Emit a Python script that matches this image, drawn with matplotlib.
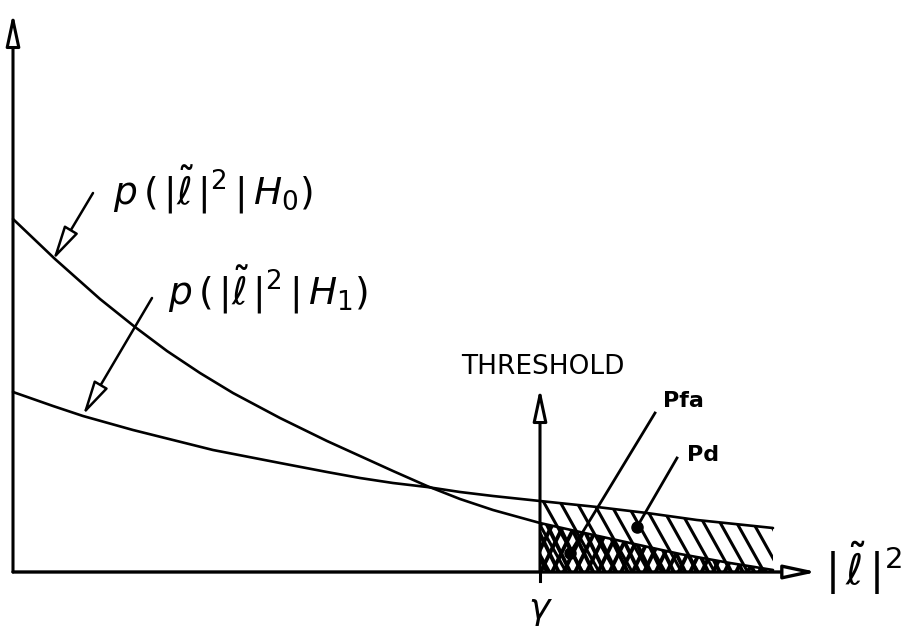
import matplotlib
matplotlib.use("Agg")
import matplotlib.pyplot as plt
from matplotlib.patches import Polygon
from matplotlib.collections import LineCollection
import numpy as np

plt.rcParams['font.family'] = ['DejaVu Sans']
plt.rcParams['mathtext.fontset'] = 'dejavusans'

# detection threshold on |l|^2
gamma = 5.27

# p(|l|^2 | H0)
h0_x = [0.0, 0.42, 0.87, 1.22, 1.54, 1.87, 2.20, 2.67, 3.14, 3.47, 3.80,
        4.14, 4.47, 4.80, 5.27, 5.67, 6.17, 6.67, 7.17, 7.60]
h0_y = [3.53, 3.13, 2.73, 2.45, 2.21, 1.99, 1.79, 1.54, 1.31, 1.16, 1.01,
        0.86, 0.73, 0.62, 0.49, 0.40, 0.29, 0.18, 0.09, 0.02]

# p(|l|^2 | H1)
h1_x = [0.0, 0.40, 0.70, 1.20, 1.64, 2.00, 2.67, 3.14, 3.47, 3.80, 4.14,
        4.47, 4.80, 5.27, 5.84, 6.34, 6.84, 7.60]
h1_y = [1.80, 1.66, 1.56, 1.42, 1.31, 1.22, 1.09, 1.00, 0.94, 0.89, 0.85,
        0.80, 0.76, 0.71, 0.65, 0.59, 0.52, 0.44]

h0_label = r'$p\,(\,|\tilde{\ell}\,|^{2}\,|\,H_{0})$'
h1_label = r'$p\,(\,|\tilde{\ell}\,|^{2}\,|\,H_{1})$'
x_label = r'$|\,\tilde{\ell}\,|^{2}$'


def open_arrow(ax, tip, tail, lw=1.8, head_len=1.5, head_w=0.35, scale=14):
    ax.annotate('', xy=tip, xytext=tail,
                arrowprops=dict(arrowstyle=f'-|>,head_length={head_len},head_width={head_w}',
                                fc='white', ec='black', lw=lw,
                                shrinkA=0, shrinkB=0, mutation_scale=scale))


def hatch_region(ax, x, top, slope, spacing, lw):
    """Steep hand-style hatching between the x axis and `top`."""
    verts = np.column_stack([np.r_[x, x[::-1]], np.r_[top, np.zeros_like(top)]])
    clip = Polygon(verts, closed=True, fc='none', ec='none')
    ax.add_patch(clip)
    h = top.max() + 0.2
    reach = h / abs(slope)
    offs = np.arange(x.min() - reach - spacing, x.max() + reach + spacing, spacing)
    segs = [[(o, -0.05), (o + h / slope, h)] for o in offs]
    lc = LineCollection(segs, colors='black', linewidths=lw)
    ax.add_collection(lc)
    lc.set_clip_path(clip)


fig = plt.figure(figsize=(9.1, 6.28), dpi=100)
ax = fig.add_axes([0, 0, 1, 1])
ax.set_xlim(-0.13, 8.97)
ax.set_ylim(-0.56, 5.72)
ax.axis('off')

h0_x = np.array(h0_x)
h0_y = np.array(h0_y)
h1_x = np.array(h1_x)
h1_y = np.array(h1_y)

# tail regions beyond the threshold: Pd under H1, Pfa under H0
t0 = h0_x >= gamma
t1 = h1_x >= gamma
hatch_region(ax, h1_x[t1], h1_y[t1], slope=-1.7, spacing=0.165, lw=2.2)
hatch_region(ax, h0_x[t0], h0_y[t0], slope=1.9, spacing=0.115, lw=2.8)
hatch_region(ax, h0_x[t0], h0_y[t0], slope=-1.9, spacing=0.115, lw=2.8)

# the two densities
ax.plot(h0_x, h0_y, color='black', lw=1.9, solid_capstyle='round', solid_joinstyle='round')
ax.plot(h1_x, h1_y, color='black', lw=1.9, solid_capstyle='round', solid_joinstyle='round')

# axes with open arrowheads
open_arrow(ax, (0, 5.59), (0, 0), lw=2.2, head_len=1.4, head_w=0.3)
open_arrow(ax, (8.04, 0), (0, 0), lw=2.4, head_len=1.4, head_w=0.3)

# threshold marker
ax.plot([gamma, gamma], [-0.09, 0], color='black', lw=2.2)
open_arrow(ax, (gamma, 1.84), (gamma, 0), lw=2.2, head_len=1.4, head_w=0.3)
ax.text(gamma + 0.03, 2.05, 'THRESHOLD', ha='center', va='center', fontsize=19)
ax.text(gamma, -0.47, r'$\gamma$', ha='center', va='baseline', fontsize=26)
ax.text(8.12, 0.04, x_label, ha='left', va='center', fontsize=30)

# curve labels with leaders
ax.text(1.0, 3.82, h0_label, ha='left', va='center', fontsize=27)
open_arrow(ax, (0.40, 3.12), (0.80, 3.79))
ax.text(1.55, 2.82, h1_label, ha='left', va='center', fontsize=27)
open_arrow(ax, (0.70, 1.57), (1.39, 2.74))

# tail-area labels
ax.text(6.50, 1.71, 'Pfa', ha='left', va='center', fontsize=16, fontweight='bold')
ax.plot([6.42, 5.57], [1.59, 0.19], color='black', lw=2.0)
ax.plot([5.57], [0.19], 'o', color='black', ms=8)
ax.text(6.74, 1.17, 'Pd', ha='left', va='center', fontsize=16, fontweight='bold')
ax.plot([6.64, 6.24], [1.14, 0.45], color='black', lw=2.0)
ax.plot([6.24], [0.45], 'o', color='black', ms=8)

fig.savefig('out.png', dpi=100, facecolor='white')
